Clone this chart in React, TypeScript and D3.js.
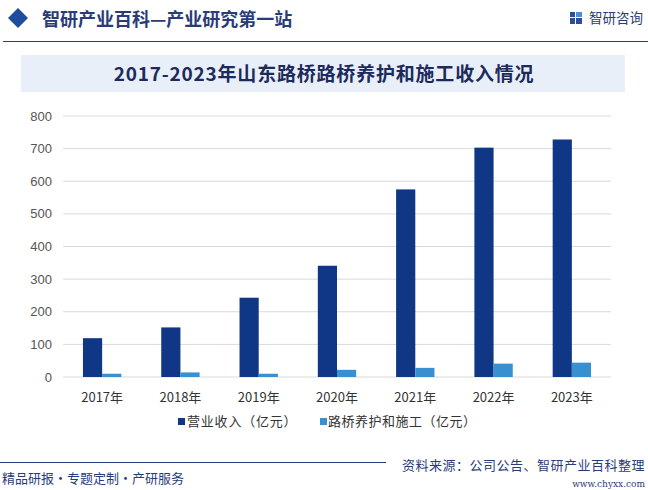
import React from "react";
import * as d3 from "d3";

const years = ["2017年", "2018年", "2019年", "2020年", "2021年", "2022年", "2023年"];
const revenue = [119, 152, 243, 341, 575, 703, 728];
const maintenance = [10, 14, 10, 22, 28, 41, 44];
const yTicks = [0, 100, 200, 300, 400, 500, 600, 700, 800];
const seriesNames = ["营业收入（亿元）", "路桥养护和施工（亿元）"];
const colors = ["#0f3785", "#3990d0"];

const W = 648, H = 490;
const left = 63, right = 611, top = 116, bottom = 377;
const FONT = "'Noto Sans CJK SC', 'Noto Sans', sans-serif";

export default function App() {
  const x = d3.scaleBand<string>().domain(years).range([left, right]).paddingInner(0).paddingOuter(0);
  const y = d3.scaleLinear().domain([0, 800]).range([bottom, top]);
  const bw = x.bandwidth() * 0.245;
  return (
    <svg width={W} height={H} style={{ position: "absolute", left: 0, top: 0, background: "#fff" }} fontFamily={FONT}>
      <rect x={0} y={0} width={W} height={H} fill="#fff" />
      {/* header */}
      <path d="M8,18 L18,8 L28,18 L18,28 Z" fill="#1f4d9e" />
      <text x={42} y={26} fontSize={18} fill="#2a3c78" fontWeight={700}>智研产业百科—产业研究第一站</text>
      <g>
        <rect x={570} y={12} width={5} height={5} fill="#2a4f9a" />
        <rect x={570} y={18} width={5} height={6} fill="#2a4f9a" />
        <rect x={576} y={12} width={6} height={5} fill="#4a8fd0" />
        <rect x={576} y={18} width={6} height={6} fill="#2a4f9a" />
        <text x={589} y={23} fontSize={13.5} fill="#2a3c78">智研咨询</text>
      </g>
      <line x1={3} x2={648} y1={41.5} y2={41.5} stroke="#2a3c78" strokeWidth={1.2} />
      {/* title box */}
      <rect x={21} y={55} width={604} height={37} fill="#e8eff8" />
      <text x={324} y={80.5} textAnchor="middle" fontSize={19} fontWeight={700} letterSpacing={0.8} fill="#1c2a5c">2017-2023年山东路桥路桥养护和施工收入情况</text>
      {/* grid */}
      {yTicks.map((t) => (
        <g key={t}>
          <line x1={left} x2={right} y1={y(t)} y2={y(t)} stroke="#d9d9d9" strokeWidth={1} />
          <text x={52} y={y(t) + 4.5} textAnchor="end" fontSize={13} fill="#555" fontFamily="Arial, 'Liberation Sans', sans-serif">{t}</text>
        </g>
      ))}
      {/* bars */}
      {years.map((yr, i) => {
        const c = (x(yr) as number) + x.bandwidth() / 2;
        return (
          <g key={yr}>
            <rect x={c - bw} y={y(revenue[i])} width={bw} height={bottom - y(revenue[i])} fill={colors[0]} />
            <rect x={c} y={y(maintenance[i])} width={bw} height={bottom - y(maintenance[i])} fill={colors[1]} />
            <text x={c} y={402} textAnchor="middle" fontSize={13} fill="#333">{yr}</text>
          </g>
        );
      })}
      {/* legend */}
      <rect x={178} y={418} width={7} height={7} fill={colors[0]} />
      <text x={187} y={426} fontSize={13} letterSpacing={0.8} fill="#333">{seriesNames[0]}</text>
      <rect x={320} y={418} width={7} height={7} fill={colors[1]} />
      <text x={328} y={426} fontSize={13} letterSpacing={0.5} fill="#333">{seriesNames[1]}</text>
      {/* footer */}
      <line x1={0} x2={386} y1={462.5} y2={462.5} stroke="#2a3c78" strokeWidth={1.2} />
      <text x={2} y={483} fontSize={13} fill="#2a3c78">精品研报・专题定制・产研服务</text>
      <text x={645} y={470} textAnchor="end" fontSize={13} letterSpacing={0.5} fill="#2a3c78">资料来源：公司公告、智研产业百科整理</text>
      <text x={645} y={487} textAnchor="end" fontSize={9} fill="#2a3c78" fontFamily="'DejaVu Serif', serif">www.chyxx.com</text>
    </svg>
  );
}
